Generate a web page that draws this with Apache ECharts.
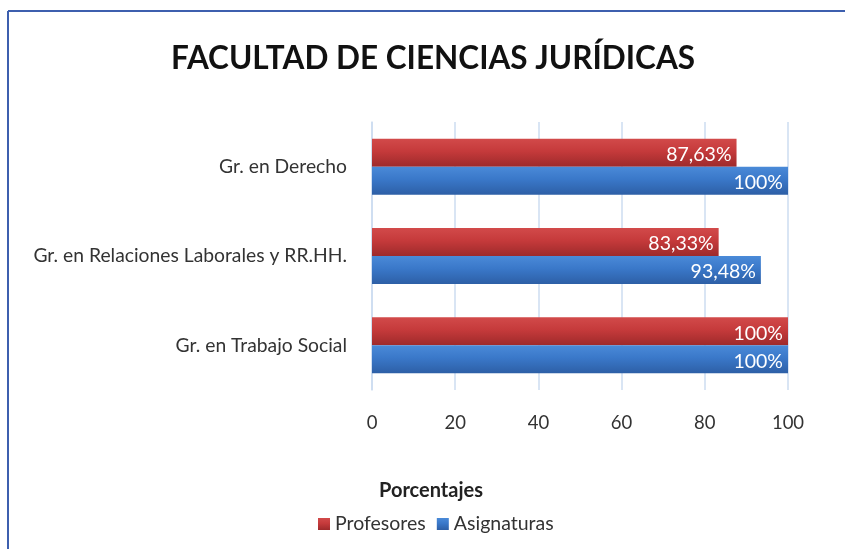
<!DOCTYPE html>
<html>
<head>
<meta charset="utf-8">
<script src="https://cdn.jsdelivr.net/npm/echarts@6/dist/echarts.min.js"></script>
<style>
  html, body { margin: 0; padding: 0; background: #fff; }
  #chart { width: 845px; height: 549px; }
</style>
</head>
<body>
<div id="chart"></div>
<script>
const categories = ["Gr. en Derecho", "Gr. en Relaciones Laborales y RR.HH.", "Gr. en Trabajo Social"];
const profesores = [87.63, 83.33, 100];
const asignaturas = [100, 93.48, 100];
const ticks = [0, 20, 40, 60, 80, 100];

const chart = echarts.init(document.getElementById("chart"));
const font = "Lato, 'Open Sans', sans-serif";

const fmt = (p) => {
  const v = p.value;
  return (Number.isInteger(v) ? String(v) : v.toFixed(2).replace(".", ",")) + "%";
};

const grad = (top, mid, bot) => new echarts.graphic.LinearGradient(0, 0, 0, 1, [
  { offset: 0, color: top },
  { offset: 0.45, color: mid },
  { offset: 1, color: bot }
]);

const options = {
  animation: false,
  textStyle: { fontFamily: font },
  title: {
    text: "FACULTAD DE CIENCIAS JURÍDICAS",
    left: 428,
    textAlign: "center",
    top: 38,
    textStyle: { fontSize: 31.5, fontWeight: "bold", color: "#111", fontFamily: font }
  },
  graphic: [
    { type: "line", shape: { x1: 8, y1: 11, x2: 845, y2: 11 }, style: { stroke: "#3d5fae", lineWidth: 2 } },
    { type: "line", shape: { x1: 8, y1: 11, x2: 8, y2: 549 }, style: { stroke: "#3d5fae", lineWidth: 2 } },
    {
      type: "text", left: 439 - 60, top: 481,
      style: { text: "Porcentajes", fontSize: 20, fontWeight: "bold", fill: "#222", fontFamily: font, width: 120, align: "center" }
    }
  ],
  legend: {
    top: 509,
    left: 313,
    itemWidth: 12,
    itemHeight: 12,
    itemGap: 11,
    icon: "rect",
    textStyle: { fontSize: 19.5, color: "#333", fontFamily: font },
    data: ["Profesores", "Asignaturas"]
  },
  grid: { left: 372, right: 57, top: 122, height: 268 },
  xAxis: {
    type: "value",
    min: 0,
    max: 100,
    interval: 20,
    axisLine: { show: false },
    axisTick: { show: false },
    axisLabel: {
      fontSize: 18.5, color: "#333", margin: 24,
      formatter: (v) => ticks.includes(v) ? String(v) : ""
    },
    splitLine: { show: true, lineStyle: { color: "#cddcf0", width: 1.5 } }
  },
  yAxis: {
    type: "category",
    data: categories,
    inverse: true,
    axisLine: { show: true, lineStyle: { color: "#cddcf0", width: 1.5 } },
    axisTick: { show: false },
    axisLabel: { fontSize: 19.3, color: "#333", margin: 25 }
  },
  series: [
    {
      name: "Profesores",
      type: "bar",
      data: profesores,
      barWidth: 28,
      barGap: "0%",
      itemStyle: { color: grad("#d24a4a", "#c53a3b", "#9e2a2b") },
      label: {
        show: true, position: "insideRight", formatter: fmt,
        color: "#fff", fontSize: 19.5, offset: [0, 2], fontFamily: font
      }
    },
    {
      name: "Asignaturas",
      type: "bar",
      data: asignaturas,
      barWidth: 28,
      barGap: "0%",
      itemStyle: { color: grad("#4a8ad8", "#3a78c9", "#2d5fa6") },
      label: {
        show: true, position: "insideRight", formatter: fmt,
        color: "#fff", fontSize: 19.5, offset: [0, 2], fontFamily: font
      }
    }
  ]
};

chart.setOption(options);
</script>
</body>
</html>
